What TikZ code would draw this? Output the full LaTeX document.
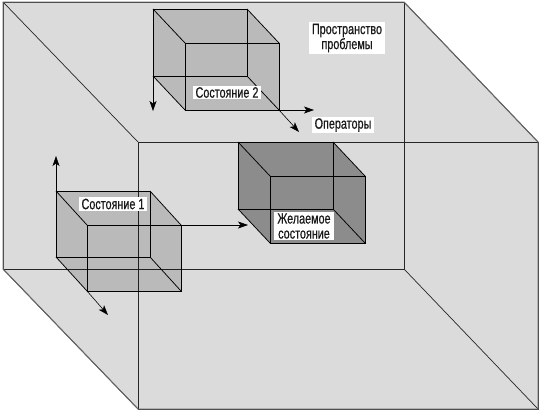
\documentclass[tikz,border=0pt]{standalone}
\usepackage{fontspec}
\setmainfont{Liberation Sans}[FakeStretch=0.72,FakeBold=0.6]
\usetikzlibrary{arrows.meta}
\newcommand\mycube[8]{%
 \coordinate (#1btl) at (#2,#3);
 \coordinate (#1btr) at (#2+#4,#3);
 \coordinate (#1bbl) at (#2,#3+#5);
 \coordinate (#1bbr) at (#2+#4,#3+#5);
 \coordinate (#1ftl) at (#2+#6,#3+#7);
 \coordinate (#1ftr) at (#2+#4+#6,#3+#7);
 \coordinate (#1fbl) at (#2+#6,#3+#5+#7);
 \coordinate (#1fbr) at (#2+#4+#6,#3+#5+#7);
 \fill[#8] (#1btl) -- (#1btr) -- (#1ftr) -- (#1fbr) -- (#1fbl) -- (#1bbl) -- cycle;
 \draw[edge] (#1btl) rectangle (#1bbr);
 \draw[edge] (#1btl) -- (#1ftl) (#1btr) -- (#1ftr) (#1bbl) -- (#1fbl) (#1bbr) -- (#1fbr);
 \draw[frontedge] (#1ftl) rectangle (#1fbr);
}
\begin{document}
\begin{tikzpicture}[x=1pt,y=-1pt,
  edge/.style={line width=0.75pt,black},
  frontedge/.style={line width=0.95pt,black},
  bigedge/.style={line width=0.7pt,black!85},
  smallfill/.style={fill=black,fill opacity=0.15},
  darkfill/.style={fill=black!45},
  oparrow/.style={line width=0.6pt,black,-{Stealth[length=10pt,width=7pt,inset=2.5pt]}},
  lbl/.style={fill=white,inner xsep=3pt,inner ysep=1.5pt,font=\fontsize{15}{15}\selectfont,text=black!90},
]
\useasboundingbox (0,0) rectangle (542,413);
% big cube (problem space)
\coordinate (Gbtl) at (3,2);
\coordinate (Gbtr) at (404,2);
\coordinate (Gbbl) at (3,269);
\coordinate (Gbbr) at (404,269);
\coordinate (Gftl) at (138,142);
\coordinate (Gftr) at (538,142);
\coordinate (Gfbl) at (138,409);
\coordinate (Gfbr) at (538,409);
\fill[black!14] (Gbtl) -- (Gbtr) -- (Gftr) -- (Gfbr) -- (Gfbl) -- (Gbbl) -- cycle;
\draw[bigedge] (Gbtl) rectangle (Gbbr);
\draw[bigedge] (Gftl) rectangle (Gfbr);
\draw[bigedge] (Gbtl) -- (Gftl) (Gbtr) -- (Gftr) (Gbbl) -- (Gfbl) (Gbbr) -- (Gfbr);
\draw[line width=1pt,black!60] (Gbtl) -- (Gbtr) -- (Gftr) -- (Gfbr) -- (Gfbl) -- (Gbbl) -- cycle;
% state 2
\mycube{S}{153}{9}{94}{67}{32}{34}{smallfill}
% state 1
\mycube{A}{56}{191}{94}{66}{31}{34}{smallfill}
% desired state
\mycube{D}{238}{142}{95}{67}{32}{34}{darkfill}
% arrow end points
\coordinate (Sdown) at (153,111);
\coordinate (Sright) at (314,110);
\coordinate (Sdiag) at (299,132);
\coordinate (Aup) at (56,156);
\coordinate (Aright) at (248,225);
\coordinate (Adiag) at (108,315);
\draw[oparrow] (Sbbl) -- (Sdown);
\draw[oparrow] (Sfbr) -- (Sright);
\draw[oparrow] (Sfbr) -- (Sdiag);
\draw[oparrow] (Abtl) -- (Aup);
\draw[oparrow] (Aftr) -- (Aright);
\draw[oparrow] (Afbl) -- (Adiag);
% labels
\node[lbl] (l2) at (227,92.5) {Состояние 2};
\node[lbl,align=center] (lsp) at (347,38) {Пространство\\проблемы};
\node[lbl] (lop) at (343,125) {Операторы};
\node[lbl] (l1) at (113,204) {Состояние 1};
\node[lbl,align=center] (ld) at (304,226) {Желаемое\\состояние};
\end{tikzpicture}
\end{document}
